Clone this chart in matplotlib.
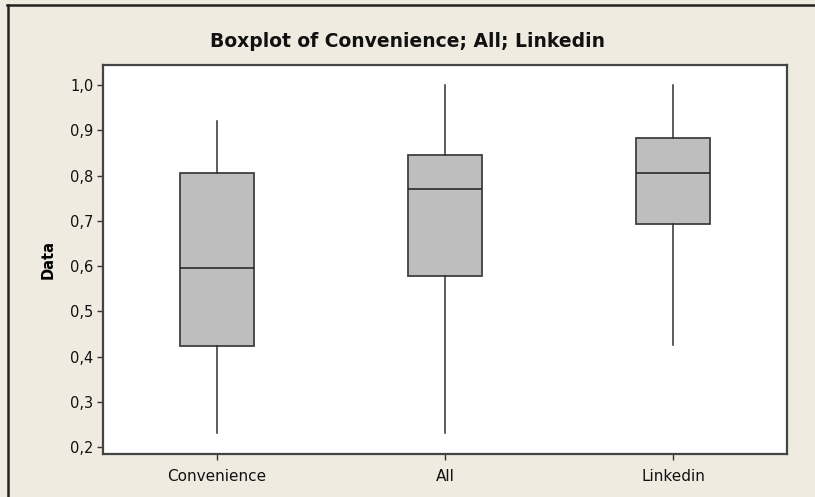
import matplotlib
matplotlib.use("Agg")
import matplotlib.pyplot as plt
from matplotlib.lines import Line2D
from matplotlib.ticker import FuncFormatter, MultipleLocator

# data
labels = ["Convenience", "All", "Linkedin"]
whislo = [0.231, 0.231, 0.425]
q1 = [0.423, 0.577, 0.692]
med = [0.595, 0.770, 0.805]
q3 = [0.805, 0.845, 0.883]
whishi = [0.920, 1.000, 1.000]

bg = "#efebe1"
edge = "#404040"

stats = []
for i in range(len(labels)):
    stats.append(dict(label=labels[i], whislo=whislo[i], q1=q1[i], med=med[i],
                      q3=q3[i], whishi=whishi[i], fliers=[]))

fig = plt.figure(figsize=(8.15, 4.97), dpi=100, facecolor=bg)
ax = fig.add_axes([0.1264, 0.0865, 0.8392, 0.7825])
ax.set_facecolor("white")

ax.bxp(stats, widths=0.325, patch_artist=True, showcaps=False,
       boxprops=dict(facecolor="#bebebe", edgecolor=edge, linewidth=1.3),
       medianprops=dict(color="#202020", linewidth=1.1),
       whiskerprops=dict(color="#303030", linewidth=1.1))

ax.set_xlim(0.5, 3.5)
ax.set_ylim(0.1845, 1.044)
ax.yaxis.set_major_locator(MultipleLocator(0.1))
ax.yaxis.set_major_formatter(FuncFormatter(lambda v, p: f"{v:.1f}".replace(".", ",")))

for s in ["left", "bottom", "right", "top"]:
    ax.spines[s].set_color("#444444")
    ax.spines[s].set_linewidth(1.6)
ax.tick_params(axis="both", direction="out", length=4, width=1, color="#333333",
               labelcolor="#111111")
ax.tick_params(axis="y", pad=3, labelsize=10.5)
ax.tick_params(axis="x", pad=7, labelsize=11)
ax.yaxis.set_ticks_position("left")
ax.xaxis.set_ticks_position("bottom")

ax.set_ylabel("Data", fontsize=10.5, fontweight="bold", labelpad=10)
fig.text(0.5, 0.917, "Boxplot of Convenience; All; Linkedin", ha="center", va="center",
         fontsize=13.5, fontweight="bold", color="#111111")

# outer frame (top and left only)
fig.add_artist(Line2D([0.010, 0.010], [0.0, 0.990], transform=fig.transFigure,
                      color="#222222", linewidth=1.8))
fig.add_artist(Line2D([0.009, 1.0], [0.990, 0.990], transform=fig.transFigure,
                      color="#222222", linewidth=1.8))

fig.savefig("out.png", dpi=100, facecolor=bg)
